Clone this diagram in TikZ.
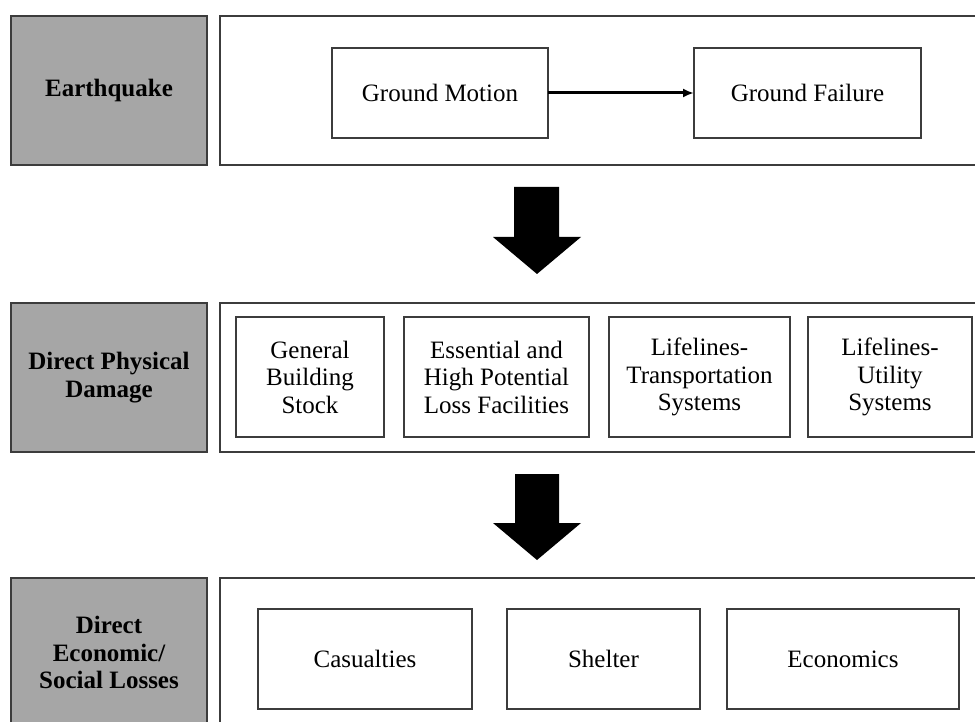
\documentclass[tikz,border=0pt]{standalone}
\usepackage{fontspec}
\setmainfont{Liberation Serif}
\usetikzlibrary{arrows.meta}
\definecolor{catgray}{RGB}{166,166,166}
\definecolor{edgegray}{RGB}{60,60,60}
\tikzset{
  txt/.style={font=\fontsize{25}{27.5}\selectfont, align=center, inner sep=0pt, outer sep=0pt},
  catbox/.style={txt, draw=edgegray, fill=catgray, line width=1.5pt, font=\fontsize{25}{27.5}\selectfont\bfseries},
  panel/.style={draw=edgegray, line width=1.5pt, inner sep=0pt, outer sep=0pt},
  itembox/.style={txt, draw=edgegray, line width=1.3pt},
  bigarrow/.style={fill=black, draw=none},
  flow/.style={-{Latex[length=11pt,width=9pt]}, line width=3pt}
}
\begin{document}
\begin{tikzpicture}[x=1pt,y=-1pt]
\useasboundingbox (0,0) rectangle (975,722);
\clip (0,0) rectangle (975,722);
\fill[white] (0,0) rectangle (975,722);
% row 1
\node[catbox, minimum width=196pt, minimum height=149pt] (eq) at (109,90.5) {Earthquake};
\node[panel, minimum width=765pt, minimum height=149pt] (p1) at (602.5,90.5) {};
\node[itembox, minimum width=216pt, minimum height=90pt] (gm) at (440,93) {Ground Motion};
\node[itembox, minimum width=227pt, minimum height=90pt] (gf) at (807.5,93) {Ground Failure};
\draw[flow] (gm.east) -- (gf.west);
% arrow 1
\fill[bigarrow] (514,187) -- (559,187) -- (559,237) -- (581,237) -- (537,274) -- (493,237) -- (514,237) -- cycle;
% row 2
\node[catbox, minimum width=196pt, minimum height=149pt] (dpd) at (109,377.5) {Direct Physical\\Damage};
\node[panel, minimum width=765pt, minimum height=149pt] (p2) at (602.5,377.5) {};
\node[itembox, minimum width=148pt, minimum height=120pt] (gbs) at (310,377) {General\\Building\\Stock};
\node[itembox, minimum width=185pt, minimum height=120pt] (ess) at (496.5,377) {Essential and\\High Potential\\Loss Facilities};
\node[itembox, minimum width=181pt, minimum height=120pt] (lts) at (699.5,377) {Lifelines-\\Transportation\\Systems};
\node[itembox, minimum width=164pt, minimum height=120pt] (lus) at (890,377) {Lifelines-\\Utility\\Systems};
% arrow 2
\fill[bigarrow] (515,474) -- (559,474) -- (559,523) -- (581,523) -- (537,560) -- (493,523) -- (515,523) -- cycle;
% row 3
\node[catbox, minimum width=196pt, minimum height=149pt] (desl) at (109,652.5) {Direct\\Economic/\\Social Losses};
\node[panel, minimum width=765pt, minimum height=149pt] (p3) at (602.5,652.5) {};
\node[itembox, minimum width=214pt, minimum height=100pt] (cas) at (365,659) {Casualties};
\node[itembox, minimum width=193pt, minimum height=100pt] (shl) at (603.5,659) {Shelter};
\node[itembox, minimum width=232pt, minimum height=100pt] (eco) at (843,659) {Economics};
\end{tikzpicture}
\end{document}
